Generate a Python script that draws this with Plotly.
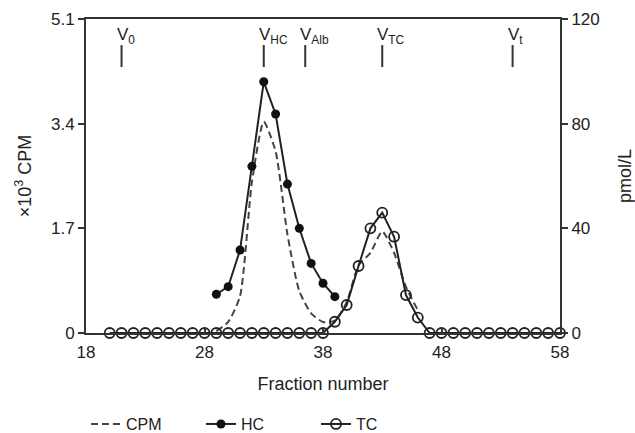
import plotly.graph_objects as go

# ---- data ----
cpm_fraction = [29, 30, 31, 32, 33, 34, 35, 36, 37, 38, 39, 40, 41, 42, 43, 44, 45, 46]
cpm_values = [0.03, 0.18, 0.6, 2.45, 3.43, 2.95, 1.6, 0.68, 0.32, 0.18, 0.2, 0.5, 1.1, 1.3, 1.65, 1.3, 0.75, 0.37]

hc_fraction = [29, 30, 31, 32, 33, 34, 35, 36, 37, 38, 39]
hc_values = [14.8, 17.7, 31.7, 63.7, 96.0, 83.7, 56.9, 40.0, 26.6, 19.0, 13.9]

tc_fraction = list(range(20, 59))
tc_values = ([0] * 19 +                      # fractions 20-38
             [4.3, 10.7, 25.6, 40.0, 46.0, 36.8, 14.5, 5.9] +   # 39-46
             [0] * 12)                       # 47-58

marker_fractions = [21, 33, 36.5, 43, 54]
marker_labels = ["V<sub>0</sub>", "V<sub>HC</sub>", "V<sub>Alb</sub>", "V<sub>TC</sub>", "V<sub>t</sub>"]

x_ticks = [18, 28, 38, 48, 58]
y_left_ticks = [0, 1.7, 3.4, 5.1]
y_left_text = ["0", "1.7", "3.4", "5.1"]
y_right_ticks = [0, 40, 80, 120]

AX = "#333333"
FONT = "Liberation Sans, Arial, sans-serif"

fig = go.Figure()

fig.add_trace(go.Scatter(
    x=cpm_fraction, y=cpm_values, name="CPM", mode="lines",
    line=dict(color="#444444", width=2, dash="7px,4px", shape="spline", smoothing=0.6),
    yaxis="y", cliponaxis=False))

fig.add_trace(go.Scatter(
    x=hc_fraction, y=hc_values, name="HC", mode="lines+markers",
    line=dict(color="#222222", width=2),
    marker=dict(symbol="circle", size=9, color="#111111"),
    yaxis="y2", cliponaxis=False))

fig.add_trace(go.Scatter(
    x=tc_fraction, y=tc_values, name="TC", mode="lines+markers",
    line=dict(color="#222222", width=2),
    marker=dict(symbol="circle-open", size=10, color="#222222", line=dict(width=1.8)),
    yaxis="y2", cliponaxis=False))

# V markers
for xf, lab in zip(marker_fractions, marker_labels):
    fig.add_shape(type="line", xref="x", yref="paper", x0=xf, x1=xf, y0=0.847, y1=0.917,
                  line=dict(color="#333333", width=2))
    fig.add_annotation(x=xf, xref="x", y=0.905, yref="paper", text=lab, showarrow=False,
                       xanchor="left", yanchor="bottom", xshift=-7,
                       font=dict(size=17, color="#222222", family=FONT))

fig.update_layout(
    width=635, height=433,
    margin=dict(l=86, r=75, t=19, b=100, autoexpand=False),
    paper_bgcolor="white", plot_bgcolor="white",
    font=dict(family=FONT, size=16, color="#222222"),
    showlegend=True,
    legend=dict(orientation="h", x=0.0, xanchor="left", y=-0.29, yanchor="middle",
                font=dict(size=16), entrywidth=70, entrywidthmode="pixels",
                itemwidth=30, tracegroupgap=0),
    xaxis=dict(range=[18, 58], tickvals=x_ticks, ticks="inside", ticklen=5, tickwidth=2,
               tickcolor=AX, showline=True, linewidth=2, linecolor=AX, mirror=True,
               showgrid=False, zeroline=False, automargin=False, ticklabelstandoff=3,
               tickfont=dict(size=17),
               title=dict(text="Fraction number", standoff=16, font=dict(size=18))),
    yaxis=dict(range=[0, 5.1], tickvals=y_left_ticks, ticktext=y_left_text, ticks="outside",
               ticklen=6, tickwidth=2, tickcolor=AX, showline=True, linewidth=2, linecolor=AX,
               showgrid=False, zeroline=False, automargin=False, tickfont=dict(size=17),
               title=dict(text="×10<sup>3</sup> CPM", standoff=15, font=dict(size=18))),
    yaxis2=dict(range=[0, 120], tickvals=y_right_ticks, overlaying="y", side="right",
                ticks="outside", ticklen=6, tickwidth=2, tickcolor=AX, showline=True,
                linewidth=2, linecolor=AX, showgrid=False, zeroline=False, automargin=False,
                tickfont=dict(size=17),
                title=dict(text="pmol/L", standoff=36, font=dict(size=18))),
)

fig.write_html("out.html", post_script="document.body.style.margin='0';",
               config={"displayModeBar": False})
